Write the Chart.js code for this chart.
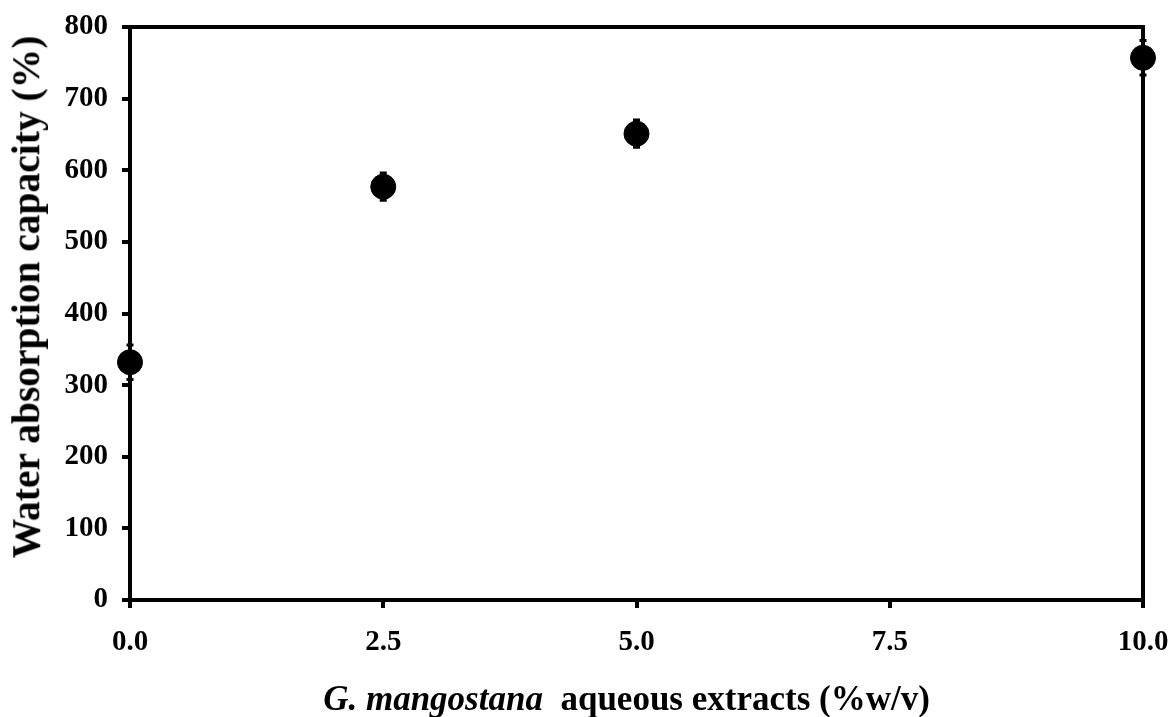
<!DOCTYPE html>
<html>
<head>
<meta charset="utf-8">
<script src="https://cdn.jsdelivr.net/npm/chart.js@4/dist/chart.umd.min.js"></script>
<style>
  html, body { margin: 0; padding: 0; background: #fff; }
  #wrap { position: relative; width: 1173px; height: 717px; }
  .ttl {
    position: absolute; color: #000; white-space: pre; font-weight: bold;
    font-family: "Liberation Serif", "Times New Roman", serif;
  }
  #xtitle { left: 170px; width: 913px; top: 681px; text-align: center; font-size: 35px; line-height: 35px; }
  #ytitle { left: 27px; top: 297px; font-size: 39.5px; line-height: 39.5px;
            transform: translate(-50%, -50%) rotate(-90deg); }
</style>
</head>
<body>
<div id="wrap">
  <canvas id="chart" width="1173" height="717"></canvas>
  <div id="ytitle" class="ttl">Water absorption capacity (%)</div>
  <div id="xtitle" class="ttl"><i>G. mangostana</i>  aqueous extracts (%w/v)</div>
</div>
<script>
// data
const concentrations = [0, 2.5, 5, 10];
const absorption = [332, 577, 651, 757];
const absorptionErr = [24, 19, 19, 24];
const xTicks = [0, 2.5, 5, 7.5, 10];
const yTicks = [0, 100, 200, 300, 400, 500, 600, 700, 800];

const serif = '"Liberation Serif", "Times New Roman", serif';

// error bars under the markers
const errorBars = {
    id: 'errorBars',
    beforeDatasetsDraw(chart) {
        const ctx = chart.ctx;
        const xs = chart.scales.x, ys = chart.scales.y;
        ctx.save();
        ctx.strokeStyle = '#000';
        ctx.lineWidth = 3;
        concentrations.forEach(function (c, i) {
            const x = xs.getPixelForValue(c);
            const y1 = ys.getPixelForValue(absorption[i] - absorptionErr[i]);
            const y2 = ys.getPixelForValue(absorption[i] + absorptionErr[i]);
            ctx.beginPath();
            ctx.moveTo(x, y1); ctx.lineTo(x, y2);
            ctx.moveTo(x - 3.5, y1); ctx.lineTo(x + 3.5, y1);
            ctx.moveTo(x - 3.5, y2); ctx.lineTo(x + 3.5, y2);
            ctx.stroke();
        });
        ctx.restore();
    }
};

// box around the plot area
const frame = {
    id: 'frame',
    afterDraw(chart) {
        const a = chart.chartArea, ctx = chart.ctx;
        ctx.save();
        ctx.strokeStyle = '#000';
        ctx.lineWidth = 4;
        ctx.strokeRect(a.left, a.top, a.right - a.left, a.bottom - a.top);
        ctx.restore();
    }
};

new Chart(document.getElementById('chart'), {
    type: 'scatter',
    data: {
        datasets: [{
            data: concentrations.map(function (c, i) { return { x: c, y: absorption[i] }; }),
            pointRadius: 12.5,
            pointHoverRadius: 12.5,
            backgroundColor: '#000',
            borderColor: '#000',
            clip: false
        }]
    },
    options: {
        responsive: false,
        animation: false,
        layout: { padding: { top: 27, right: 30, left: 0, bottom: 0 } },
        plugins: { legend: { display: false }, tooltip: { enabled: false } },
        scales: {
            x: {
                type: 'linear',
                min: 0, max: 10,
                afterBuildTicks(scale) { scale.ticks = xTicks.map(function (v) { return { value: v }; }); },
                afterFit(scale) {
                    scale.height = 117;
                    scale.paddingLeft = 0; scale.paddingRight = 0;
                },
                ticks: {
                    color: '#000',
                    padding: 17,
                    maxRotation: 0,
                    font: { family: serif, size: 29, weight: 'bold' },
                    callback: function (v) { return Number(v).toFixed(1); }
                },
                grid: { drawOnChartArea: false, color: '#000', lineWidth: 4, tickLength: 8 },
                border: { color: '#000', width: 4 }
            },
            y: {
                min: 0, max: 800,
                afterBuildTicks(scale) { scale.ticks = yTicks.map(function (v) { return { value: v }; }); },
                afterFit(scale) {
                    scale.width = 130;
                    scale.paddingTop = 0; scale.paddingBottom = 0;
                },
                ticks: {
                    color: '#000',
                    padding: 14,
                    font: { family: serif, size: 29, weight: 'bold' }
                },
                grid: { drawOnChartArea: false, color: '#000', lineWidth: 4, tickLength: 8 },
                border: { color: '#000', width: 4 }
            }
        }
    },
    plugins: [errorBars, frame]
});
</script>
</body>
</html>
